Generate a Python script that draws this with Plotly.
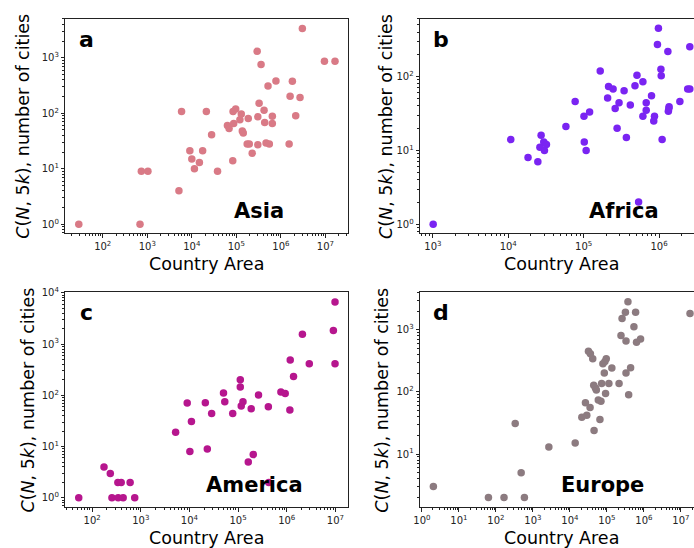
import plotly.graph_objects as go

# ---- data: country area vs. number of cities C(N, 5k) ----
asia_area = [29, 687, 736, 1035, 5140, 5890, 9030, 10000, 11450, 14800,
             17500, 21200, 27800, 37800, 63100, 68700, 83000, 84400, 87200, 96600,
             120000, 129000, 136000, 143000, 175000, 185000, 195000, 227000, 293000, 303000,
             303000, 324000, 359000, 419000, 433000, 464000, 514000, 550000, 642000, 642000,
             774000, 1530000, 1610000, 1810000, 2150000, 2690000, 3030000, 9500000, 16400000]
asia_cities = [1, 1, 9, 9, 4, 108, 21, 15, 10, 13,
               21, 107, 41, 9, 60, 53, 14, 108, 65, 119,
               76, 97, 48, 44, 28, 80, 28, 19, 1306, 27,
               86, 151, 755, 113, 68, 29, 311, 28, 88, 65,
               382, 28, 203, 376, 90, 193, 3350, 866, 866]

africa_area = [1010, 10800, 18300, 24700, 26300, 27300, 29600, 30200, 32100, 58200,
               77200, 101000, 102000, 108000, 120000, 166000, 208000, 214000, 246000, 262000,
               278000, 295000, 344000, 369000, 416000, 480000, 510000, 536000, 611000, 611000,
               676000, 676000, 795000, 871000, 851000, 953000, 982000, 1060000, 1070000, 1100000,
               1310000, 1330000, 1360000, 1350000, 1890000, 2400000, 2560000, 2560000]
africa_cities = [1, 14, 8, 7, 11, 16, 13, 10, 12, 21,
                 46, 29, 13, 10, 33, 119, 51, 73, 68, 37,
                 20, 44, 64, 15, 41, 75, 104, 2, 85, 29,
                 44, 35, 55, 29, 25, 271, 449, 125, 102, 14,
                 218, 34, 39, 37, 46, 68, 68, 252]

america_area = [53, 175, 236, 255, 338, 343, 395, 434, 603, 750,
                5200, 9000, 10200, 11000, 21200, 23300, 28600, 50100, 53300, 77600,
                111000, 111000, 116000, 126000, 162000, 186000, 205000, 263000, 419000, 427000,
                759000, 931000, 1160000, 1180000, 1380000, 2100000, 2910000, 9100000, 9840000, 9840000]
america_cities = [1, 4, 3, 1, 2, 1, 2, 1, 2, 1,
                  19, 71, 8, 31, 72, 9, 44, 111, 75, 44,
                  201, 145, 62, 75, 5, 55, 7, 102, 60, 2,
                  116, 108, 52, 488, 233, 1549, 414, 1849, 6600, 414]

europe_area = [2.05, 63, 166, 333, 482, 590, 2700, 13900, 21000, 28600,
               26300, 35100, 45000, 64800, 58500, 69000, 44000, 49000, 51800, 72000,
               92000, 113000, 213000, 85000, 136000, 78000, 88500, 96000, 41400, 31700,
               35800, 328000, 437000, 387000, 240000, 328000, 631000, 812000, 537000, 257000,
               316000, 596000, 370000, 17600000]
europe_cities = [3, 2, 2, 31, 5, 2, 13, 15, 39, 42,
                 67, 56, 24, 36, 74, 71, 128, 116, 107, 136,
                 94, 136, 136, 202, 242, 284, 309, 340, 340, 452,
                 409, 202, 245, 90, 811, 661, 630, 712, 1120, 1514,
                 1910, 1910, 2820, 1820]

panel_letters = ["a", "b", "c", "d"]
region_names = ["Asia", "Africa", "America", "Europe"]
colors = ["#d97a86", "#7a24f2", "#b6168e", "#8c7b80"]

# decade exponents labelled on each axis
x_decades = [[2, 3, 4, 5, 6, 7], [3, 4, 5, 6], [2, 3, 4, 5, 6, 7], [0, 1, 2, 3, 4, 5, 6, 7]]
y_decades = [[0, 1, 2, 3], [0, 1, 2], [0, 1, 2, 3, 4], [1, 2, 3]]

# ---- layout geometry (pixels on a 694 x 548 canvas) ----
W, H = 694, 548
boxes = [  # left, right, top, bottom
    (59.0, 344.0, 13.0, 230.0),
    (417.4, 694.0, 13.0, 230.0),
    (59.0, 344.0, 289.3, 507.0),
    (417.4, 694.0, 289.3, 507.0),
]
x_ranges = [[1.162, 7.496], [2.832, 6.464], [1.45, 7.25], [-0.045, 7.353]]
y_ranges = [[-0.166, 3.70], [-0.124, 2.78], [-0.187, 4.013], [0.141, 3.605]]
ylabel_x = [16.7, 382.7, 21.0, 378.7]

datasets = [(asia_area, asia_cities), (africa_area, africa_cities),
            (america_area, america_cities), (europe_area, europe_cities)]

FONT = "DejaVu Sans"

fig = go.Figure()


def minor_vals(lo, hi):
    vals = []
    for e in range(int(lo) - 1, int(hi) + 2):
        for k in range(2, 10):
            vals.append(k * 10.0 ** e)
    return vals


annotations = []
for i in range(4):
    l, r, t, b = boxes[i]
    xs, ys = datasets[i]
    sfx = "" if i == 0 else str(i + 1)
    fig.add_trace(go.Scatter(
        x=xs, y=ys, mode="markers",
        marker=dict(color=colors[i], size=7.5, line=dict(width=0)),
        xaxis="x" + sfx, yaxis="y" + sfx, showlegend=False,
    ))
    full_frame = r < W - 1
    common = dict(
        type="log", showgrid=False, zeroline=False,
        showline=True, linecolor="#222", linewidth=1,
        ticks="outside", ticklen=3.5, tickwidth=1, tickcolor="#222",
        tickfont=dict(family=FONT, size=10, color="#222"),
    )
    xax = dict(common,
               domain=[l / W, r / W], range=x_ranges[i],
               anchor="y" + sfx, mirror=True,
               tickmode="array",
               tickvals=[10.0 ** e for e in x_decades[i]],
               ticktext=["10<sup>%d</sup>" % e for e in x_decades[i]],
               minor=dict(tickmode="array", tickvals=minor_vals(*x_ranges[i]),
                          ticks="outside", ticklen=2, tickwidth=0.8, tickcolor="#222"))
    yax = dict(common,
               domain=[1 - b / H, 1 - t / H], range=y_ranges[i],
               anchor="x" + sfx, mirror=full_frame,
               tickmode="array",
               tickvals=[10.0 ** e for e in y_decades[i]],
               ticktext=["10<sup>%d</sup>" % e for e in y_decades[i]],
               minor=dict(tickmode="array", tickvals=minor_vals(*y_ranges[i]),
                          ticks="outside", ticklen=2, tickwidth=0.8, tickcolor="#222"))
    fig.layout["xaxis" + sfx] = xax
    fig.layout["yaxis" + sfx] = yax

    full_l, full_r = l, l + 285.0
    # panel letter
    annotations.append(dict(
        x=(l + 21.5) / W, y=1 - (t + 21) / H, xref="paper", yref="paper",
        text="<b>%s</b>" % panel_letters[i], showarrow=False,
        font=dict(family=FONT, size=22, color="black"),
        xanchor="center", yanchor="middle"))
    # region name
    annotations.append(dict(
        x=(full_l + full_r) / 2 / W + (0.0 if i % 2 == 0 else -0.003) + (0.06 if i == 0 else 0.0) * 0,
        y=1 - (b - 22.5) / H, xref="paper", yref="paper",
        text="<b>%s</b>" % region_names[i], showarrow=False,
        font=dict(family=FONT, size=21, color="black"),
        xanchor="center", yanchor="middle"))
    # axis titles
    annotations.append(dict(
        x=(full_l + full_r) / 2 / W, y=1 - (b + 30.5) / H, xref="paper", yref="paper",
        text="Country Area", showarrow=False,
        font=dict(family=FONT, size=17.5, color="black"),
        xanchor="center", yanchor="middle"))
    annotations.append(dict(
        x=ylabel_x[i] / W, y=1 - (t + b) / 2 / H, xref="paper", yref="paper",
        text="<i>C</i>(<i>N</i>, 5<i>k</i>), number of cities", showarrow=False,
        textangle=-90,
        font=dict(family=FONT, size=17.5, color="black"),
        xanchor="center", yanchor="middle"))

# region label centres measured along each panel
region_x = [255.0, 623.7, 250.0, 602.0]
region_y = [207.3, 207.3, 484.0, 484.0]
for i in range(4):
    annotations[4 * i + 1]["x"] = region_x[i] / W
    annotations[4 * i + 1]["y"] = 1 - region_y[i] / H

fig.update_layout(
    width=W, height=H,
    margin=dict(l=0, r=0, t=0, b=0),
    paper_bgcolor="white", plot_bgcolor="white",
    annotations=annotations,
    font=dict(family=FONT),
)

fig.write_html("out.html")
